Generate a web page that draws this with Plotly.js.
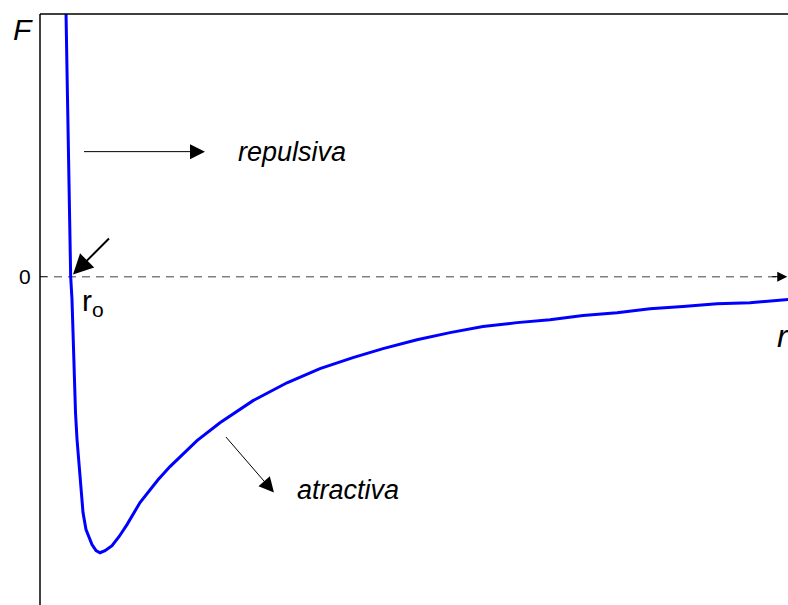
<!DOCTYPE html>
<html>
<head>
<meta charset="utf-8">
<script src="https://cdn.plot.ly/plotly-3.0.1.min.js"></script>
<style>html,body{margin:0;padding:0;background:#fff}#chart{width:788px;height:605px}</style>
</head>
<body>
<div id="chart"></div>
<script>
// distance r (arbitrary units) and force F (arbitrary units)
const rValues = [0.342,0.348,0.368,0.388,0.410,0.428,0.455,0.475,0.495,0.535,0.575,0.615,0.655,0.695,0.749,0.802,0.869,0.963,1.056,1.163,1.337,1.578,1.738,2.099,2.406,2.848,3.302,3.743,4.184,4.586,5.040,5.481,5.922,6.377,6.818,7.259,7.714,8.155,8.596,9.051,9.492,9.933,10.03];
const forceValues = [1.054,1.001,0.674,0.331,0.000,-0.088,-0.392,-0.520,-0.620,-0.773,-0.898,-0.963,-0.990,-1.020,-1.043,-1.051,-1.043,-1.024,-0.990,-0.944,-0.860,-0.773,-0.723,-0.624,-0.556,-0.472,-0.404,-0.350,-0.308,-0.274,-0.240,-0.213,-0.190,-0.175,-0.164,-0.148,-0.137,-0.122,-0.114,-0.103,-0.099,-0.088,-0.086];
const yTickValues = [0];
const yTickLabels = ['0'];

const italic = {family: 'Liberation Sans, Arial, sans-serif', style: 'italic', color: '#000'};
const plain = {family: 'Liberation Sans, Arial, sans-serif', color: '#000'};

const trace = {
  x: rValues, y: forceValues, type: 'scatter', mode: 'lines',
  line: {color: '#0000ff', width: 3}, hoverinfo: 'skip', cliponaxis: true
};

const tickLabelAnnotations = yTickValues.map((v, i) => ({
  xref: 'paper', yref: 'y', x: -0.009, y: v, xanchor: 'right', yanchor: 'middle', showarrow: false,
  text: yTickLabels[i], font: Object.assign({size: 21}, plain)
}));

const layout = {
  width: 788, height: 605,
  margin: {l: 40, r: 0, t: 14, b: 0, pad: 0},
  paper_bgcolor: '#fff', plot_bgcolor: '#fff',
  showlegend: false,
  xaxis: {range: [0, 10], showgrid: false, zeroline: false, showticklabels: false, ticks: '', showline: false, fixedrange: true},
  yaxis: {range: [-1.25, 1], showgrid: false, zeroline: false, showline: false, showticklabels: false,
    tickvals: yTickValues, ticks: 'inside', ticklen: 7, tickcolor: '#333', tickwidth: 1.5, fixedrange: true},
  shapes: [
    {type: 'line', xref: 'paper', yref: 'paper', x0: 0, x1: 0, y0: 0, y1: 1, line: {color: '#000', width: 1.5}},
    {type: 'line', xref: 'paper', yref: 'paper', x0: 0, x1: 1, y0: 1, y1: 1, line: {color: '#000', width: 1.5}},
    {type: 'line', xref: 'x', yref: 'y', x0: 0, x1: 9.9, y0: 0, y1: 0, line: {color: '#808080', width: 1.5, dash: '8px,6px'}, layer: 'below'}
  ],
  annotations: tickLabelAnnotations.concat([
    {xref: 'x', yref: 'y', x: 9.99, y: 0, ax: -18, ay: 0, showarrow: true, arrowhead: 2, arrowsize: 2, arrowwidth: 1, arrowcolor: '#000', text: ' '},
    {xref: 'x', yref: 'y', x: 2.206, y: 0.476, ax: -124, ay: 0, showarrow: true, arrowhead: 2, arrowsize: 3, arrowwidth: 1, arrowcolor: '#000', text: ' '},
    {xref: 'x', yref: 'y', x: 3.128, y: -0.822, ax: -51, ay: -59, showarrow: true, arrowhead: 2, arrowsize: 3, arrowwidth: 1, arrowcolor: '#000', text: ' '},
    {xref: 'x', yref: 'y', x: 0.441, y: 0.008, ax: 39, ay: -39, showarrow: true, arrowhead: 2, arrowsize: 2, arrowwidth: 2, arrowcolor: '#000', text: ' '},
    {xref: 'paper', yref: 'paper', x: -0.0227, y: 0.973, xanchor: 'center', yanchor: 'middle', showarrow: false, text: 'F', font: Object.assign({size: 30}, italic)},
    {xref: 'paper', yref: 'paper', x: 0.982, y: 0.455, xanchor: 'left', yanchor: 'middle', showarrow: false, text: 'r', font: Object.assign({size: 32}, italic)},
    {xref: 'x', yref: 'y', x: 0.53, y: -0.10, xanchor: 'left', yanchor: 'middle', showarrow: false, text: 'r<sub>o</sub>', font: Object.assign({size: 30}, plain)},
    {xref: 'x', yref: 'y', x: 3.37, y: 0.476, xanchor: 'center', yanchor: 'middle', showarrow: false, text: 'repulsiva', font: Object.assign({size: 27}, italic)},
    {xref: 'x', yref: 'y', x: 4.12, y: -0.814, xanchor: 'center', yanchor: 'middle', showarrow: false, text: 'atractiva', font: Object.assign({size: 27}, italic)}
  ])
};

Plotly.newPlot('chart', [trace], layout, {displayModeBar: false, staticPlot: true});
</script>
</body>
</html>
